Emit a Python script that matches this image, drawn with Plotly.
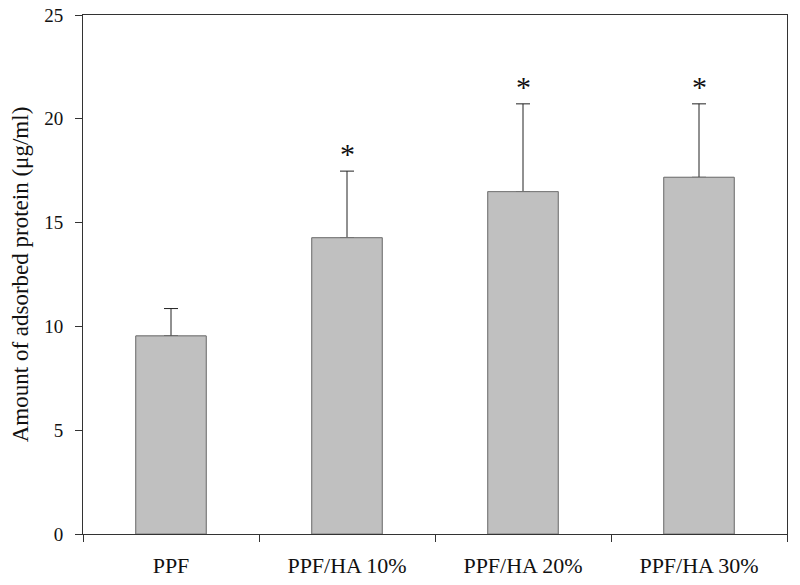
import plotly.graph_objects as go

# data
groups = ["PPF", "PPF/HA 10%", "PPF/HA 20%", "PPF/HA 30%"]
protein = [9.54, 14.27, 16.49, 17.18]
sd = [1.32, 3.21, 4.23, 3.54]
signif = ["", "*", "*", "*"]

bar_style = dict(color="#c0c0c0", line=dict(color="#7a7a7a", width=1))

fig = go.Figure()

# bars with upper error bars
fig.add_trace(go.Bar(
    x=groups, y=protein, width=0.4, marker=bar_style,
    error_y=dict(type="data", symmetric=False, array=sd, arrayminus=[0] * len(sd),
                 color="#222222", thickness=1, width=7),
    showlegend=False, hoverinfo="skip",
))
# same bars again on top, hides the lower error cap
fig.add_trace(go.Bar(
    x=groups, y=protein, width=0.4, marker=bar_style, showlegend=False,
))

# significance stars above the error bars
for g, v, e, s in zip(groups, protein, sd, signif):
    if s:
        fig.add_annotation(x=g, y=v + e, text=s, showarrow=False,
                           yanchor="bottom", yshift=-1,
                           font=dict(family="Liberation Serif", size=30, color="#111111"))

fig.update_layout(
    width=800, height=585,
    margin=dict(l=83, r=13, t=15, b=51),
    plot_bgcolor="white", paper_bgcolor="white",
    font=dict(family="Liberation Serif", size=20, color="#111111"),
    barmode="overlay",
)

fig.update_xaxes(
    automargin=False,
    showline=True, linecolor="#333333", linewidth=1, mirror=True,
    ticks="outside", tickson="boundaries", ticklen=7, tickcolor="#333333",
    ticklabelstandoff=12,
    showgrid=False, tickfont=dict(size=22),
)
fig.update_yaxes(
    automargin=False,
    range=[0, 25], dtick=5,
    showline=True, linecolor="#333333", linewidth=1, mirror=True,
    ticks="outside", ticklen=7, tickcolor="#333333",
    ticklabelstandoff=8, ticklabeloverflow="allow",
    showgrid=False, zeroline=False, tickfont=dict(size=19),
    title=dict(text="Amount of adsorbed protein (μg/ml)", font=dict(size=23), standoff=9),
)

# drop the default page margin so the figure sits at the window corner
fig.write_html("out.html", config={"displayModeBar": False},
               post_script="document.body.style.margin='0px';")
